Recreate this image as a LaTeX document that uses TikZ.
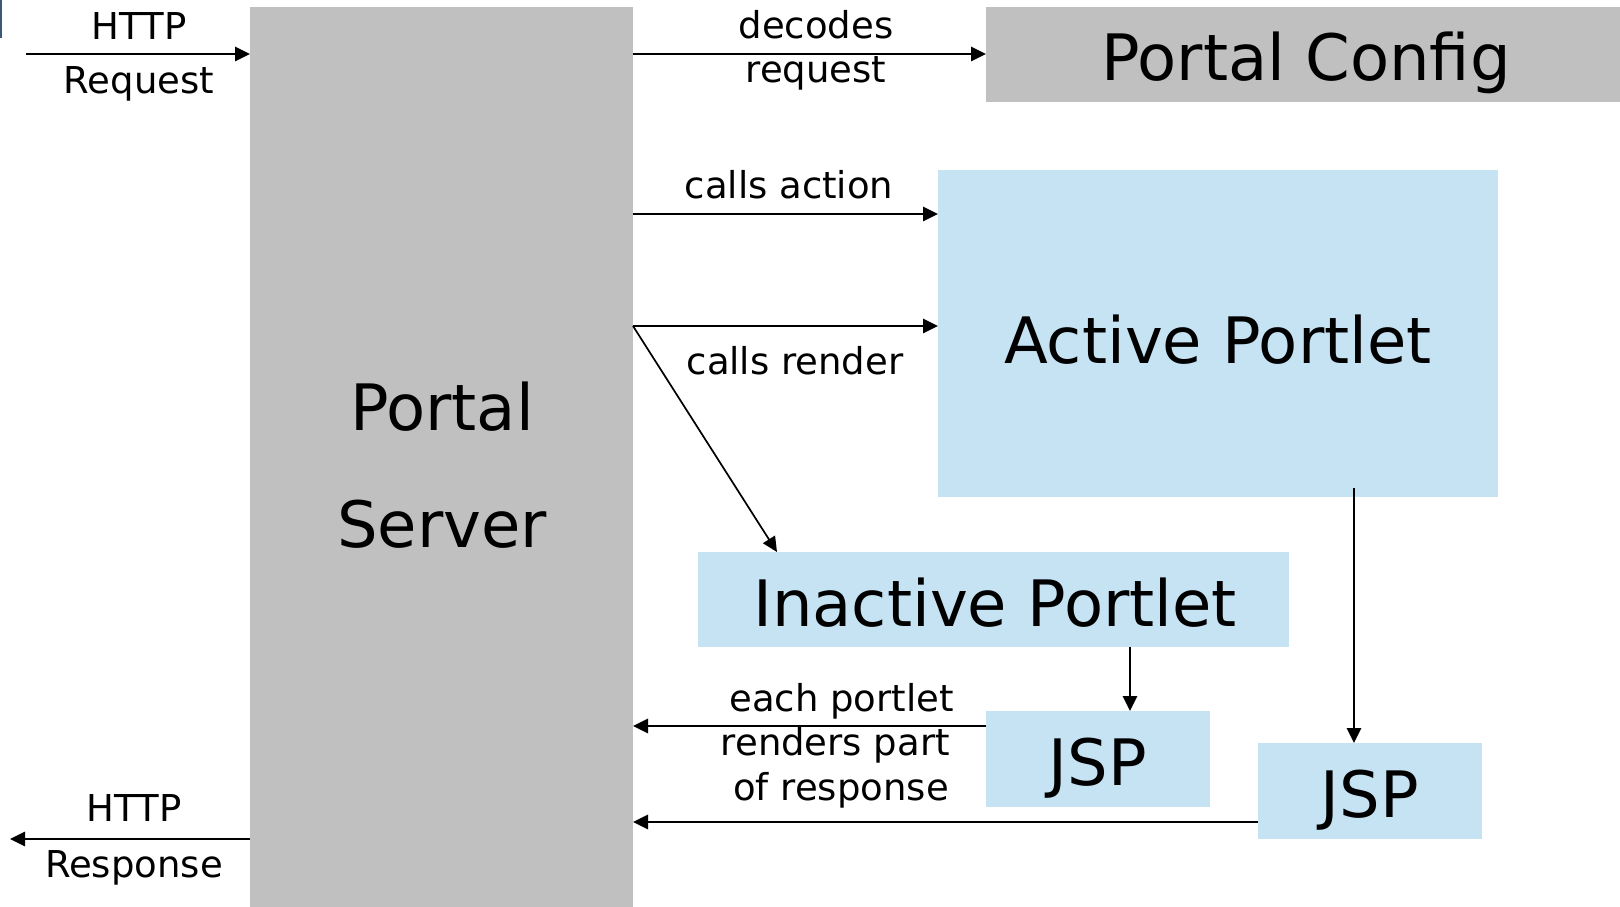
\documentclass[tikz,border=0pt]{standalone}
\usepackage{fontspec}
\setmainfont{DejaVu Sans}
\usetikzlibrary{arrows.meta}
\definecolor{srvgray}{RGB}{192,192,192}
\definecolor{portblue}{RGB}{197,227,243}
\definecolor{edgeblue}{RGB}{60,90,120}
\begin{document}
\begin{tikzpicture}[x=1pt,y=-1pt,
  box/.style={draw=none,inner sep=0pt,outer sep=0pt,anchor=north west},
  graybox/.style={box,fill=srvgray},
  bluebox/.style={box,fill=portblue},
  bigtext/.style={inner sep=0pt,anchor=base,font=\fontsize{64}{77}\selectfont},
  smalltext/.style={inner sep=0pt,anchor=base,font=\fontsize{37}{44}\selectfont},
  conn/.style={line width=2.8pt,-{Triangle[length=15pt,width=14pt]}},
  thinconn/.style={line width=1.7pt,-{Triangle[length=15pt,width=14pt]}}]
\useasboundingbox (0,0) rectangle (1620,907);

% boxes
\node[graybox,minimum width=383pt,minimum height=900pt] (srv) at (250,7) {};
\node[graybox,minimum width=634pt,minimum height=95pt] (cfg) at (986,7) {};
\node[bluebox,minimum width=560pt,minimum height=327pt] (act) at (938,170) {};
\node[bluebox,minimum width=591pt,minimum height=95pt] (inact) at (698,552) {};
\node[bluebox,minimum width=224pt,minimum height=96pt] (jspa) at (986,711) {};
\node[bluebox,minimum width=224pt,minimum height=96pt] (jspb) at (1258,743) {};

% box captions
\node[bigtext] (srvA) at (442,430) {Portal};
\node[bigtext] (srvB) at (442,547) {Server};
\node[bigtext] (cfgT) at (1306,81) {Portal Config};
\node[bigtext] (actT) at (1218,363) {Active Portlet};
\node[bigtext] (inactT) at (995,626) {Inactive Portlet};
\node[bigtext] (jspaT) at (1098,785) {JSP};
\node[bigtext] (jspbT) at (1370,817) {JSP};

% thin frame edge at the top left corner
\draw[edgeblue,line width=2pt] (1,0) -- (1,38);

% free ends of the outer arrows
\coordinate (reqin) at (26,54);
\coordinate (respout) at (10,839);

% connectors
\draw[conn] (reqin) -- (reqin -| srv.west);
\draw[conn] (srv.west |- respout) -- (respout);
\draw[conn] (srv.east |- 0,54) -- (cfg.west |- 0,54);
\draw[conn] (srv.east |- 0,214) -- (act.west |- 0,214);
\draw[conn] (srv.east |- 0,326) -- (act.west |- 0,326);
\draw[thinconn] (srv.east |- 0,326) -- (inact.north -| 777,0);
\draw[conn] ([yshift=9pt]act.south -| 1354,0) -- (jspb.north -| 1354,0);
\draw[conn] (inact.south -| 1130,0) -- (jspa.north -| 1130,0);
\draw[conn] (jspa.west |- 0,726) -- (srv.east |- 0,726);
\draw[conn] (jspb.west |- 0,822) -- (srv.east |- 0,822);

% connector labels
\node[smalltext] (l1a) at (139,40) {HTTP};
\node[smalltext] (l1b) at (139,93) {Request};
\node[smalltext] (l2a) at (134,821) {HTTP};
\node[smalltext] (l2b) at (134,877) {Response};
\node[smalltext] (l3a) at (816,39) {decodes};
\node[smalltext] (l3b) at (816,83) {request};
\node[smalltext] (l4) at (789,198) {calls action};
\node[smalltext] (l5) at (795,374) {calls render};
\node[smalltext,anchor=base east] (l6a) at (954,711) {each portlet};
\node[smalltext,anchor=base east] (l6b) at (950,755) {renders part};
\node[smalltext,anchor=base east] (l6c) at (949,800) {of response};
\end{tikzpicture}
\end{document}
